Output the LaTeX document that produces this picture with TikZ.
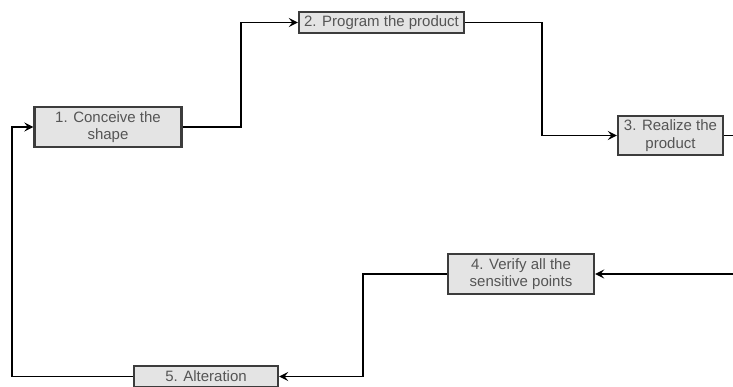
\documentclass[tikz,border=0pt]{standalone}
\usepackage{fontspec}
\setmainfont{Liberation Sans}
\usetikzlibrary{arrows.meta}
\definecolor{boxfill}{HTML}{E4E4E4}
\definecolor{boxdraw}{HTML}{3C3C3C}
\definecolor{txt}{HTML}{555555}
\begin{document}
\begin{tikzpicture}[x=1pt,y=-1pt,
  stepbox/.style={draw=boxdraw,fill=boxfill,line width=2.4pt,inner sep=0pt,
    align=center,text=txt,font=\fontsize{15}{17.5}\selectfont},
  arr/.style={line width=1.6pt,-{Stealth[length=9pt,width=9pt,inset=3.5pt]}},
  ln/.style={line width=1.6pt}]
\useasboundingbox (0,0) rectangle (733,387);
\node[stepbox,minimum width=147pt,minimum height=40pt] (b1) at (108,127) {1. Conceive the\\shape};
\node[stepbox,minimum width=165pt,minimum height=21pt] (b2) at (381.5,22.5) {2. Program the product};
\node[stepbox,minimum width=105pt,minimum height=39pt] (b3) at (670.5,135.5) {3. Realize the\\product};
\node[stepbox,minimum width=146pt,minimum height=40pt] (b4) at (521,274) {4. Verify all the\\sensitive points};
\node[stepbox,minimum width=144pt,minimum height=21pt] (b5) at (206,376.5) {5. Alteration};
\coordinate (e1) at (735,135.5);
\coordinate (e2) at (735,274);
\draw[arr] (b1.east) -- ++(58.5,0) |- (b2.west);
\draw[arr] (b2.east) -- ++(77,0) |- (b3.west);
\draw[ln] (b3.east) -- (e1);
\draw[arr] (e2) -- (b4.east);
\draw[arr] (b4.west) -- ++(-84,0) |- (b5.east);
\draw[arr] (b5.west) -- ++(-121,0) |- (b1.west);
\end{tikzpicture}
\end{document}
